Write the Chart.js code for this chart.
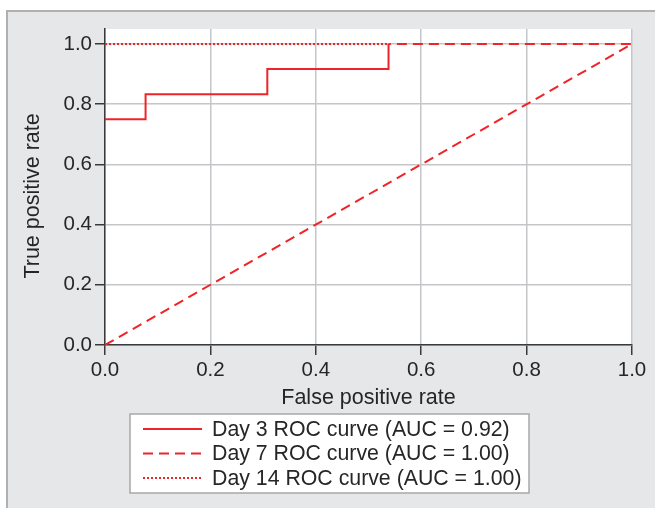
<!DOCTYPE html>
<html>
<head>
<meta charset="utf-8">
<script src="https://cdn.jsdelivr.net/npm/chart.js@4/dist/chart.umd.min.js"></script>
<style>
  body { margin: 0; background: #fff; }
  canvas { display: block; }
</style>
</head>
<body>
<canvas id="roc" width="655" height="508"></canvas>
<script>
// ROC curves
const day3X = [0, 0.077, 0.308, 0.538];
const day3Y = [0.75, 0.833, 0.917, 1.0];
const day7X = [0, 1, 0.538];
const day7Y = [0, 1, 1];
const day14X = [0, 0.538];
const day14Y = [1, 1];

const seriesLabels = [
    'Day 3 ROC curve (AUC = 0.92)',
    'Day 7 ROC curve (AUC = 1.00)',
    'Day 14 ROC curve (AUC = 1.00)'
];
const xTicks = [0, 0.2, 0.4, 0.6, 0.8, 1.0];
const yTicks = [0, 0.2, 0.4, 0.6, 0.8, 1.0];

const RED = 'rgb(238, 36, 40)';
const FONT = "'Liberation Sans', Arial, Helvetica, sans-serif";

function toPoints(xs, ys) {
    return xs.map((x, i) => ({ x: x, y: ys[i] }));
}

// grey panel + white plot area behind everything
const backdrop = {
    id: 'backdrop',
    beforeDraw(chart) {
        const ctx = chart.ctx;
        const a = chart.chartArea;
        ctx.save();
        ctx.fillStyle = '#ffffff';
        ctx.fillRect(0, 0, chart.width, chart.height);
        ctx.fillStyle = '#e6e7e9';
        ctx.fillRect(7, 11, chart.width, chart.height);
        ctx.strokeStyle = '#b0b0b0';
        ctx.lineWidth = 2;
        ctx.strokeRect(7, 11, chart.width + 10, chart.height + 10);
        ctx.fillStyle = '#ffffff';
        ctx.fillRect(a.left, a.top, a.right - a.left, a.bottom - a.top);
        ctx.restore();
    }
};

// boxed legend under the x axis title
const boxLegend = {
    id: 'boxLegend',
    afterDraw(chart) {
        const ctx = chart.ctx;
        const left = 130, top = 414, width = 399, height = 79;
        const rowH = 24.5;
        ctx.save();
        ctx.fillStyle = '#ffffff';
        ctx.fillRect(left, top, width, height);
        ctx.strokeStyle = '#a8a8a8';
        ctx.lineWidth = 1.5;
        ctx.strokeRect(left, top, width, height);
        ctx.font = '21.3px ' + FONT;
        ctx.textBaseline = 'middle';
        chart.data.datasets.forEach((ds, i) => {
            const y = top + 15 + i * rowH;
            ctx.strokeStyle = ds.borderColor;
            ctx.lineWidth = ds.borderWidth;
            ctx.setLineDash(ds.borderDash || []);
            ctx.beginPath();
            ctx.moveTo(143, y);
            ctx.lineTo(202, y);
            ctx.stroke();
            ctx.setLineDash([]);
            ctx.fillStyle = '#262626';
            ctx.fillText(ds.label, 212, y + 1);
        });
        ctx.restore();
    }
};

new Chart(document.getElementById('roc').getContext('2d'), {
    type: 'line',
    data: {
        datasets: [
            {
                label: seriesLabels[0],
                data: toPoints(day3X, day3Y),
                borderColor: RED,
                borderWidth: 2,
                stepped: true,
                pointRadius: 0,
                fill: false
            },
            {
                label: seriesLabels[1],
                data: toPoints(day7X, day7Y),
                borderColor: RED,
                borderWidth: 2,
                borderDash: [10, 6],
                pointRadius: 0,
                fill: false
            },
            {
                label: seriesLabels[2],
                data: toPoints(day14X, day14Y),
                borderColor: RED,
                borderWidth: 2,
                borderDash: [2, 2],
                pointRadius: 0,
                fill: false
            }
        ]
    },
    options: {
        responsive: false,
        animation: false,
        layout: { padding: { top: 29, right: 23, left: 0, bottom: 0 } },
        plugins: {
            legend: { display: false },
            tooltip: { enabled: false }
        },
        scales: {
            x: {
                type: 'linear',
                min: 0,
                max: 1,
                afterFit: s => { s.height = 163; },
                afterBuildTicks: s => { s.ticks = xTicks.map(v => ({ value: v })); },
                ticks: {
                    padding: 3,
                    color: '#262626',
                    font: { family: FONT, size: 20.5 },
                    callback: v => v.toFixed(1)
                },
                grid: { color: '#c4c6ca', lineWidth: 1.5, tickColor: '#3a3a3a', tickLength: 10 },
                border: { color: '#3a3a3a', width: 1.5 },
                title: {
                    display: true,
                    text: 'False positive rate',
                    color: '#262626',
                    font: { family: FONT, size: 21.5 },
                    padding: { top: 0, bottom: 97 }
                }
            },
            y: {
                type: 'linear',
                min: 0,
                max: 1.05,
                afterFit: s => { s.width = 105; },
                afterBuildTicks: s => { s.ticks = yTicks.map(v => ({ value: v })); },
                ticks: {
                    padding: 3,
                    color: '#262626',
                    font: { family: FONT, size: 20.5 },
                    callback: v => v.toFixed(1)
                },
                grid: { color: '#c4c6ca', lineWidth: 1.5, tickColor: '#3a3a3a', tickLength: 10 },
                border: { color: '#3a3a3a', width: 1.5 },
                title: {
                    display: true,
                    text: 'True positive rate\u00a0\u00a0\u00a0',
                    color: '#262626',
                    font: { family: FONT, size: 21.5 },
                    padding: { top: 20, bottom: 0 }
                }
            }
        }
    },
    plugins: [backdrop, boxLegend]
});
</script>
</body>
</html>
